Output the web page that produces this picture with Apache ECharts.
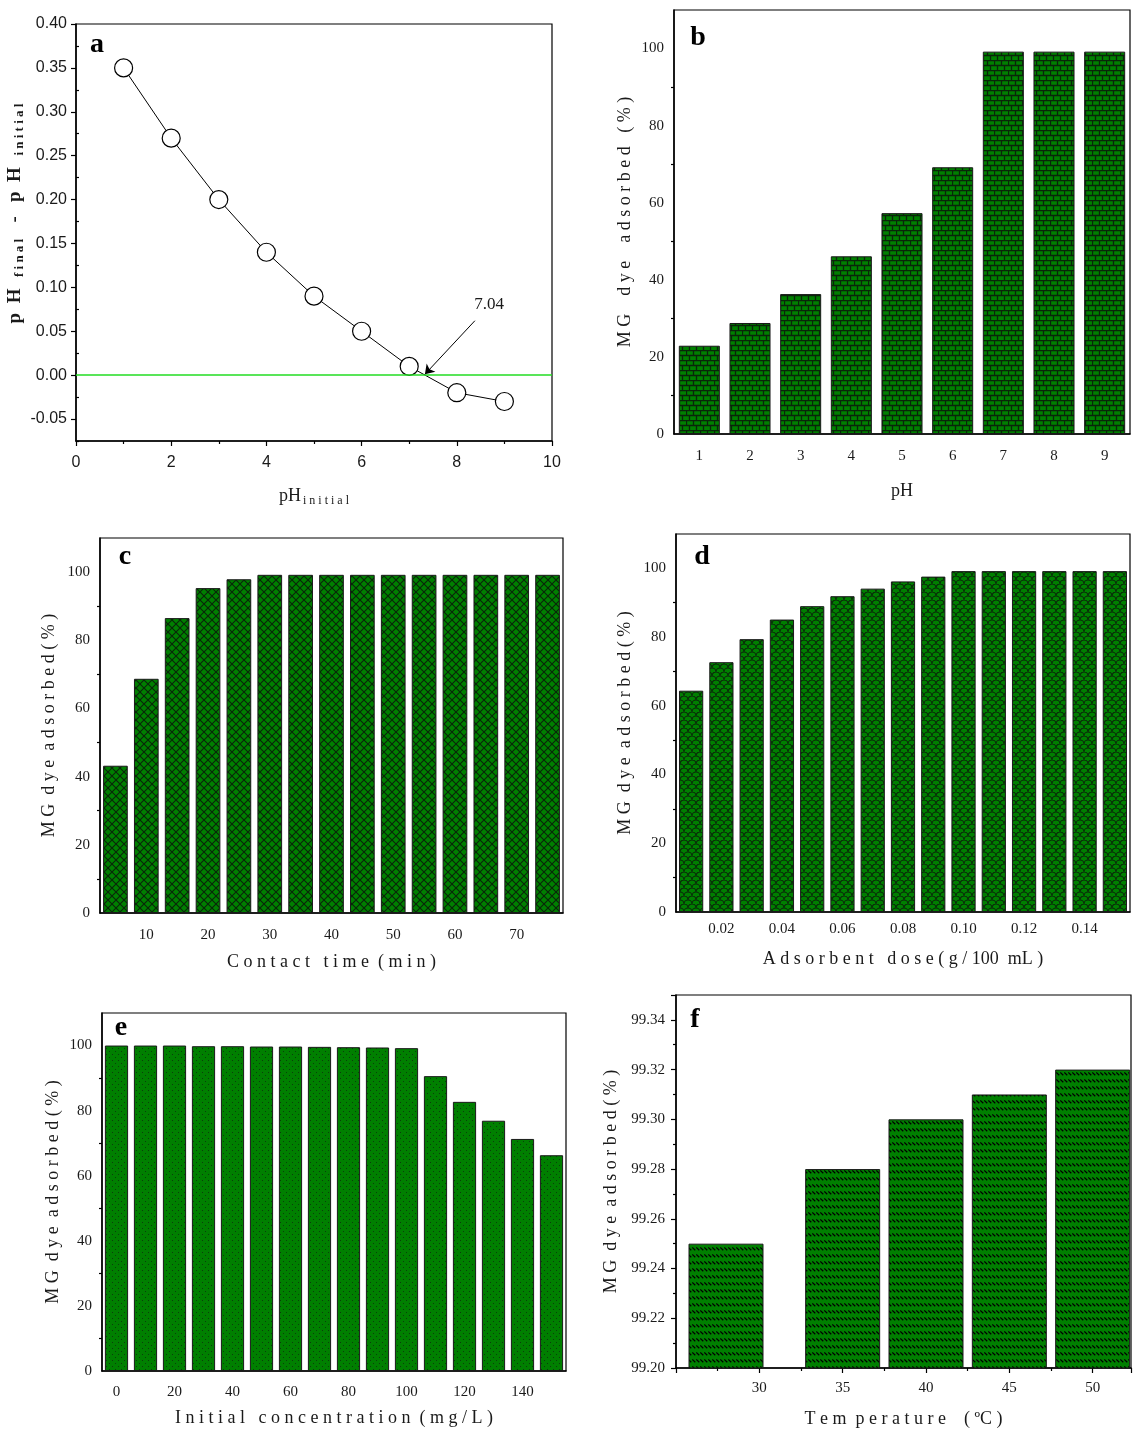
<!DOCTYPE html>
<html>
<head>
  <meta charset="utf-8">
  <title>MG dye adsorption</title>
  <style>
    body { margin: 0; background: #fff; }
  </style>
</head>
<body>
  <div id="main" style="width:1134px;height:1431px;"></div>
  <script src="https://cdn.jsdelivr.net/npm/echarts@6/dist/echarts.min.js"></script>
  <script>
  // (a) point of zero charge
  let phInitial = [1, 2, 3, 4, 5, 6, 7, 8, 9];
  let phDiff = [0.35, 0.27, 0.20, 0.14, 0.09, 0.05, 0.01, -0.02, -0.03];
  let aYTicks = [-0.05, 0, 0.05, 0.10, 0.15, 0.20, 0.25, 0.30, 0.35, 0.40];
  let aYMinor = [-0.075, -0.025, 0.025, 0.075, 0.125, 0.175, 0.225, 0.275, 0.325, 0.375];
  let pzcText = '7.04';
  let pzcArrow = [[8.38, 0.062], [7.33, 0.001]];
  let pzcTextAt = [8.68, 0.080];

  // (b) effect of pH
  let phCats = ['1', '2', '3', '4', '5', '6', '7', '8', '9'];
  let phRemoval = [22.9, 28.8, 36.3, 46.1, 57.3, 69.2, 99.2, 99.2, 99.2];

  // (c) contact time
  let timeCats = ['5', '10', '15', '20', '25', '30', '35', '40', '45', '50', '55', '60', '65', '70', '75'];
  let timeLabels = ['10', '20', '30', '40', '50', '60', '70'];
  let timeRemoval = [43.2, 68.7, 86.5, 95.3, 97.9, 99.2, 99.2, 99.2, 99.2, 99.2, 99.2, 99.2, 99.2, 99.2, 99.2];

  // (d) adsorbent dose
  let doseCats = ['0.01', '0.02', '0.03', '0.04', '0.05', '0.06', '0.07', '0.08', '0.09', '0.10', '0.11', '0.12', '0.13', '0.14', '0.15'];
  let doseLabels = ['0.02', '0.04', '0.06', '0.08', '0.10', '0.12', '0.14'];
  let doseRemoval = [64.4, 72.7, 79.4, 85.1, 89.0, 91.9, 94.1, 96.2, 97.6, 99.2, 99.2, 99.2, 99.2, 99.2, 99.2];

  // (e) initial concentration
  let concCats = ['0', '10', '20', '30', '40', '50', '60', '70', '80', '90', '100', '110', '120', '130', '140', '150'];
  let concLabels = ['0', '20', '40', '60', '80', '100', '120', '140'];
  let concRemoval = [100, 100, 100, 99.8, 99.8, 99.7, 99.7, 99.6, 99.5, 99.4, 99.2, 90.6, 82.7, 76.9, 71.3, 66.3];

  // (f) temperature
  let temps = [28, 35, 40, 45, 50];
  let tempRemoval = [99.25, 99.28, 99.30, 99.31, 99.32];

  const GREEN = '#007f00';
  const SERIF = '"Liberation Serif", "Times New Roman", serif';
  const SANSN = '"Liberation Sans Narrow", "Liberation Sans", Arial, sans-serif';

  // fill patterns drawn on small canvases
  function tile(w, h, paint) {
    let c = document.createElement('canvas');
    c.width = w; c.height = h;
    let g = c.getContext('2d');
    g.fillStyle = GREEN;
    g.fillRect(0, 0, w, h);
    g.strokeStyle = '#0a250a';
    g.fillStyle = '#0a250a';
    paint(g);
    return { image: c, repeat: 'repeat' };
  }
  let brick = tile(14, 10, g => {
    g.lineWidth = 1.3;
    g.beginPath();
    g.moveTo(0, 0.5); g.lineTo(14, 0.5);
    g.moveTo(0, 5.5); g.lineTo(14, 5.5);
    g.moveTo(0.5, 0); g.lineTo(0.5, 5);
    g.moveTo(7.5, 0); g.lineTo(7.5, 5);
    g.moveTo(3.5, 5); g.lineTo(3.5, 10);
    g.moveTo(10.5, 5); g.lineTo(10.5, 10);
    g.stroke();
  });
  let hatch = tile(8, 8, g => {
    g.lineWidth = 1.1;
    g.beginPath();
    g.moveTo(0, 0); g.lineTo(8, 8);
    g.moveTo(8, 0); g.lineTo(0, 8);
    g.stroke();
  });
  let scales = tile(8, 8, g => {
    g.lineWidth = 1.1;
    g.beginPath();
    g.arc(4, 4, 4, Math.PI, 0);
    g.moveTo(4, 8); g.arc(0, 8, 4, 0, -Math.PI / 2, true);
    g.moveTo(8, 4); g.arc(8, 8, 4, -Math.PI / 2, Math.PI, true);
    g.stroke();
  });
  let dots = tile(6, 6, g => {
    g.fillStyle = '#0b3d0b';
    g.fillRect(1, 1, 1, 1);
    g.fillRect(4, 4, 1, 1);
  });
  let dashes = tile(4, 7, g => {
    g.strokeStyle = '#000';
    g.lineWidth = 1.2;
    g.beginPath();
    g.moveTo(0.3, 1.5); g.lineTo(3.3, 4.3);
    g.stroke();
  });

  let axLine = { show: true, onZero: false, lineStyle: { color: '#000', width: 1.5 } };
  let tickStyle = { color: '#000', width: 1.2 };
  let tickFont = { fontFamily: SERIF, fontSize: 15, color: '#1a1a1a' };
  let nameFont = { fontFamily: SERIF, fontSize: 18, color: '#1a1a1a' };

  let grids = [
    { left: 76, top: 24, width: 476, height: 417 },
    { left: 674, top: 10, width: 456, height: 424 },
    { left: 100, top: 538, width: 463, height: 375 },
    { left: 676, top: 534, width: 454, height: 378 },
    { left: 102, top: 1013, width: 464, height: 358 },
    { left: 676, top: 995, width: 457, height: 373 }
  ].map(g => Object.assign(g, { show: true, borderColor: '#000', borderWidth: 1.2, backgroundColor: 'transparent' }));

  let xAxes = [], yAxes = [], series = [];

  // percent y axis used by b-e
  function pctAxis(gi, name, gap) {
    yAxes.push({
      gridIndex: gi, type: 'value', min: 0, max: 110, interval: 20,
      axisLine: axLine, splitLine: { show: false },
      axisTick: { length: 5, lineStyle: tickStyle },
      minorTick: { show: true, splitNumber: 2, length: 3, lineStyle: tickStyle },
      axisLabel: Object.assign({ showMaxLabel: false, margin: 10 }, tickFont),
      name: name, nameLocation: 'middle', nameGap: gap, nameTextStyle: nameFont
    });
    return yAxes.length - 1;
  }

  // category x axis with short ticks everywhere and long ticks at labelled categories
  function catAxis(gi, cats, labels, name, gap, margin, boundaryTicks) {
    let shown = (i, v) => labels.indexOf(v) >= 0;
    xAxes.push({
      gridIndex: gi, type: 'category', data: cats, position: 'bottom',
      axisLine: axLine,
      axisTick: { alignWithLabel: true, interval: 0, length: 3, lineStyle: tickStyle },
      axisLabel: Object.assign({ interval: shown, margin: margin }, tickFont),
      name: name, nameLocation: 'middle', nameGap: gap, nameTextStyle: nameFont
    });
    let main = xAxes.length - 1;
    xAxes.push({
      gridIndex: gi, type: 'category', data: cats, position: 'bottom',
      axisLine: { show: false }, axisLabel: { show: false },
      axisTick: boundaryTicks
        ? { alignWithLabel: false, interval: 0, length: 3, lineStyle: tickStyle }
        : { alignWithLabel: true, interval: shown, length: 6, lineStyle: tickStyle }
    });
    if (boundaryTicks) xAxes[main].axisTick.length = 6;
    return main;
  }

  function barSeries(xi, yi, values, fill, gap) {
    series.push({
      type: 'bar', xAxisIndex: xi, yAxisIndex: yi, data: values,
      barCategoryGap: gap,
      itemStyle: { color: fill, borderColor: '#1a1a1a', borderWidth: 1 }
    });
  }

  // ---- (a)
  xAxes.push({
    gridIndex: 0, type: 'value', min: 0, max: 10, interval: 2,
    axisLine: axLine, splitLine: { show: false },
    axisTick: { length: 5, lineStyle: tickStyle },
    minorTick: { show: true, splitNumber: 2, length: 3, lineStyle: tickStyle },
    axisLabel: { fontFamily: SANSN, fontSize: 16, color: '#1a1a1a', margin: 14 },
    name: '{m|pH}{s|i n i t i a l}', nameLocation: 'middle', nameGap: 44,
    nameTextStyle: {
      rich: {
        m: { fontFamily: SERIF, fontSize: 18, color: '#1a1a1a' },
        s: { fontFamily: SERIF, fontSize: 12, color: '#1a1a1a', padding: [10, 0, 0, 2] }
      }
    }
  });
  let ax0 = xAxes.length - 1;
  yAxes.push({
    gridIndex: 0, type: 'value', min: -0.075, max: 0.40,
    axisLine: axLine, splitLine: { show: false },
    axisTick: { customValues: aYTicks, length: 5, lineStyle: tickStyle },
    axisLabel: { customValues: aYTicks, formatter: v => v.toFixed(2), fontFamily: SANSN, fontSize: 16, color: '#1a1a1a', margin: 9 },
    name: '{g|}{m|p  H  }{s|f i n a l}{m|   -   p  H  }{s|i n i t i a l}', nameLocation: 'middle', nameGap: 46,
    nameTextStyle: {
      rich: {
        g: { width: 40 },
        m: { fontFamily: SERIF, fontSize: 19, fontWeight: 'bold', color: '#1a1a1a' },
        s: { fontFamily: SERIF, fontSize: 13, fontWeight: 'bold', color: '#1a1a1a', padding: [10, 2, 0, 2] }
      }
    }
  });
  let ay0 = yAxes.length - 1;
  yAxes.push({
    gridIndex: 0, type: 'value', min: -0.075, max: 0.40,
    axisLine: { show: false }, splitLine: { show: false }, axisLabel: { show: false },
    axisTick: { customValues: aYMinor, length: 3, lineStyle: tickStyle }
  });
  series.push({
    type: 'line', xAxisIndex: ax0, yAxisIndex: ay0, z: 2, silent: true, data: [],
    markLine: {
      silent: true, symbol: 'none', label: { show: false },
      lineStyle: { color: '#22dd22', width: 1.5, type: 'solid' },
      data: [{ yAxis: 0 }]
    }
  });
  series.push({
    type: 'line', xAxisIndex: ax0, yAxisIndex: ay0, z: 3,
    data: phInitial.map((x, i) => [x, phDiff[i]]),
    symbol: 'circle', symbolSize: 18,
    itemStyle: { color: '#fff', borderColor: '#000', borderWidth: 1.2 },
    lineStyle: { color: '#000', width: 1 }
  });
  series.push({
    type: 'line', xAxisIndex: ax0, yAxisIndex: ay0, z: 4, data: [],
    markLine: {
      silent: true, symbol: ['none', 'arrow'], symbolSize: 9, label: { show: false },
      lineStyle: { color: '#000', width: 1, type: 'solid' },
      data: [[{ coord: pzcArrow[0] }, { coord: pzcArrow[1] }]]
    },
    markPoint: {
      silent: true, symbol: 'circle', symbolSize: 0,
      label: { show: true, position: 'inside', formatter: pzcText, fontFamily: SERIF, fontSize: 17, color: '#1a1a1a' },
      data: [{ coord: pzcTextAt }]
    }
  });

  // ---- (b)
  let bx = catAxis(1, phCats, phCats, 'pH', 48, 15, true);
  let by = pctAxis(1, 'M G    d y e    a d s o r b e d   ( % )', 40);
  barSeries(bx, by, phRemoval, brick, '19%');

  // ---- (c)
  let cx = catAxis(2, timeCats, timeLabels, 'C o n t a c t   t i m e  ( m i n )', 40, 15, false);
  let cy = pctAxis(2, 'M G  d y e  a d s o r b e d ( % )', 42);
  barSeries(cx, cy, timeRemoval, hatch, '20%');

  // ---- (d)
  let dx = catAxis(3, doseCats, doseLabels, 'A d s o r b e n t   d o s e ( g / 100  mL )', 38, 10, false);
  let dy = pctAxis(3, 'M G  d y e  a d s o r b e d ( % )', 42);
  barSeries(dx, dy, doseRemoval, scales, '20%');

  // ---- (e)
  let ex = catAxis(4, concCats, concLabels, 'I n i t i a l   c o n c e n t r a t i o n  ( m g / L )', 38, 14, false);
  let ey = pctAxis(4, 'M G  d y e  a d s o r b e d ( % )', 40);
  barSeries(ex, ey, concRemoval, dots, '20%');

  // ---- (f)
  xAxes.push({
    gridIndex: 5, type: 'value', min: 25, max: 52.3, interval: 5,
    axisLine: axLine, splitLine: { show: false },
    axisTick: { length: 5, lineStyle: tickStyle },
    minorTick: { show: true, splitNumber: 2, length: 3, lineStyle: tickStyle },
    axisLabel: Object.assign({ margin: 13, formatter: v => (v >= 30 && v % 5 === 0) ? String(v) : '' }, tickFont),
    name: 'T e m  p e r a t u r e    ( ºC )', nameLocation: 'middle', nameGap: 42, nameTextStyle: nameFont
  });
  let fx = xAxes.length - 1;
  yAxes.push({
    gridIndex: 5, type: 'value', min: 99.2, max: 99.35, interval: 0.02,
    axisLine: axLine, splitLine: { show: false },
    axisTick: { length: 5, lineStyle: tickStyle },
    minorTick: { show: true, splitNumber: 2, length: 3, lineStyle: tickStyle },
    axisLabel: Object.assign({ showMaxLabel: false, margin: 11, formatter: v => v.toFixed(2) }, tickFont),
    name: 'M G  d y e  a d s o r b e d ( % )', nameLocation: 'middle', nameGap: 56, nameTextStyle: nameFont
  });
  let fy = yAxes.length - 1;
  series.push({
    type: 'bar', xAxisIndex: fx, yAxisIndex: fy, barWidth: 75,
    data: temps.map((t, i) => [t, tempRemoval[i]]),
    itemStyle: { color: dashes, borderColor: '#1a1a1a', borderWidth: 1 }
  });

  // panel letters
  let letters = [['a', 97, 45], ['b', 698, 38], ['c', 125, 557], ['d', 702, 557], ['e', 121, 1028], ['f', 695, 1020]];
  let graphic = letters.map(l => ({
    type: 'text', x: l[1], y: l[2], z: 10,
    style: { text: l[0], font: 'bold 28px ' + SERIF, fill: '#000', align: 'center', verticalAlign: 'middle' }
  }));

  let myChart = echarts.init(document.getElementById('main'));
  myChart.setOption({
    animation: false,
    grid: grids,
    xAxis: xAxes,
    yAxis: yAxes,
    series: series,
    graphic: graphic
  });
  </script>
</body>
</html>
